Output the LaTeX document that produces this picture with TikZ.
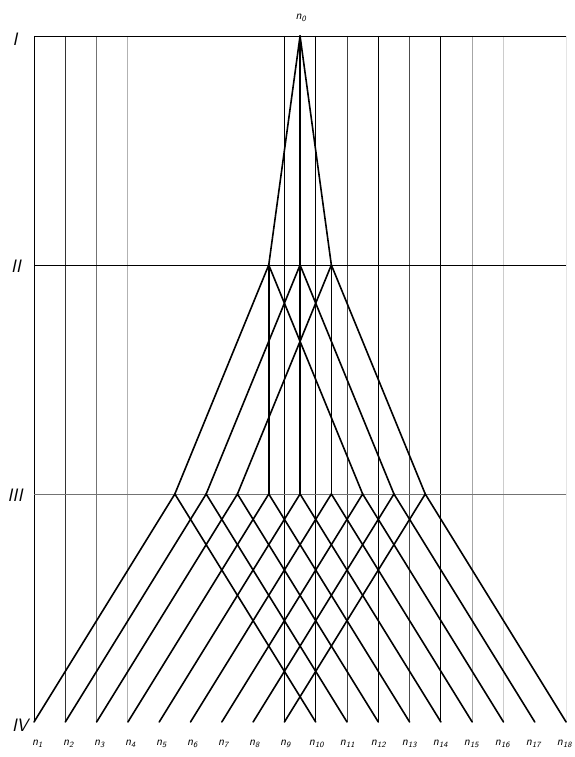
\documentclass[tikz,border=0pt]{standalone}
\usepackage{tikz}
\usetikzlibrary{calc}

\begin{document}
\begin{tikzpicture}[
  x=1pt, y=-1pt,
  grid/.style={line width=0.9pt},
  branch/.style={line width=1.6pt, black, line cap=round},
  level/.style={font=\fontsize{18}{18}\selectfont\sffamily\itshape, inner sep=0pt, anchor=center},
  plant/.style={font=\fontsize{12}{12}\selectfont\sffamily\itshape, inner sep=0pt, anchor=center}
]
  \useasboundingbox (0,0) rectangle (575,757);
  % Points of the four levels
  \coordinate (n0) at (300.05,36);
  \foreach \j in {1,2,3} {
    \coordinate (a\j) at ({300.05+(\j-2)*31.3},265);
  }
  \foreach \k in {1,...,9} {
    \coordinate (b\k) at ({300.05+(\k-5)*31.3},494);
  }
  \foreach \k in {1,...,18} {
    \coordinate (c\k) at ({34+(\k-1)*31.3},722);
  }
  % Vertical grid lines
  \foreach \k/\shade in {1/100,2/80,3/55,4/30,9/100,10/100,11/75,12/100,13/70,14/100,15/35,16/20,18/10} {
    \draw[grid, black!\shade] (c\k |- n0) -- (c\k);
  }
  % Level lines
  \draw[grid, black] (c1 |- n0) -- (c18 |- n0);
  \draw[grid, black] (c1 |- a1) -- (c18 |- a1);
  \draw[grid, black!55] (c1 |- b1) -- (c18 |- b1);
  % Branches
  \foreach \j in {1,2,3} {
    \draw[branch] (n0) -- (a\j);
    \foreach \m in {0,1,2} {
      \pgfmathtruncatemacro\k{\j+3*\m}
      \draw[branch] (a\j) -- (b\k);
    }
  }
  \foreach \k in {1,...,9} {
    \pgfmathtruncatemacro\r{\k+9}
    \draw[branch] (c\k) -- (b\k) -- (c\r);
  }
  % Labels
  \node[plant] (t0) at ($(n0)+(1,-18)$) {n\textsubscript{0}};
  \foreach \k in {1,...,18} {
    \node[plant] (t\k) at ({37.5+(\k-1)*31},744) {n\textsubscript{\k}};
  }
  \node[level] (lv1) at (15,39) {I};
  \node[level] (lv2) at (16,266) {II};
  \node[level] (lv3) at (15,495) {III};
  \node[level] (lv4) at (20,725) {IV};
\end{tikzpicture}
\end{document}
